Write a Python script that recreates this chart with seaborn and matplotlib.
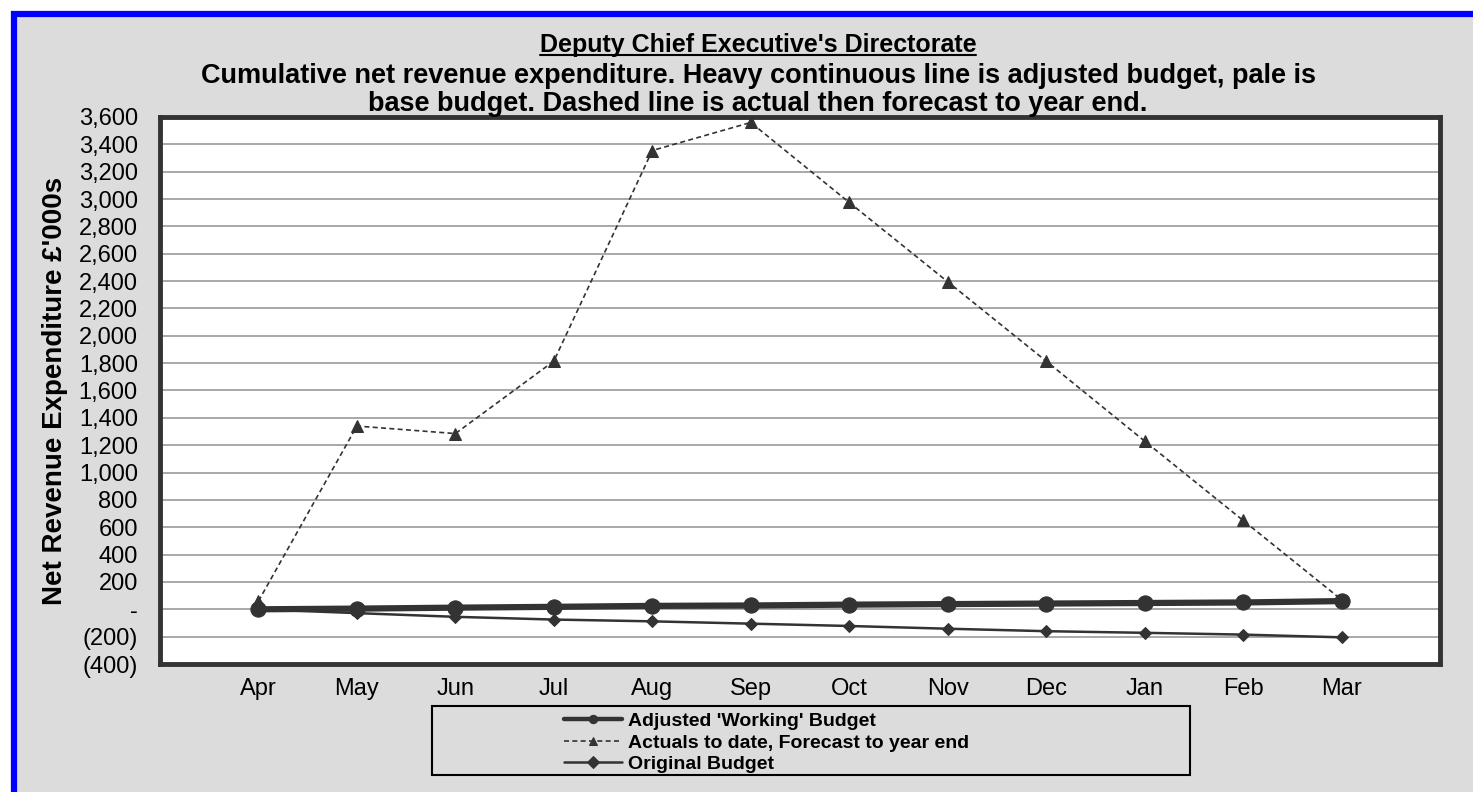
import numpy as np
import matplotlib.pyplot as plt
import matplotlib.patches as mpatches
import matplotlib.lines as mlines
import seaborn as sns

months = ["Apr", "May", "Jun", "Jul", "Aug", "Sep", "Oct", "Nov", "Dec", "Jan", "Feb", "Mar"]
adjusted = [0, 5, 12, 18, 25, 28, 34, 38, 42, 46, 50, 60]
actuals = [60, 1340, 1285, 1815, 3355, 3560, 2975, 2395, 1815, 1230, 650, 70]
original = [0, -28, -55, -75, -88, -105, -122, -142, -160, -172, -185, -205]

ytick_vals = list(range(-400, 3601, 200))

sns.set_style("white")
plt.rcParams['font.family'] = ['Liberation Sans', 'DejaVu Sans']
plt.rcParams['text.color'] = 'black'
plt.rcParams['xtick.color'] = 'black'
plt.rcParams['ytick.color'] = 'black'
plt.rcParams['axes.labelcolor'] = 'black'

dark = "#333333"
bg = "#dcdcdc"

fig = plt.figure(figsize=(14.73, 7.92), dpi=100, facecolor="white")
# blue frame around the grey chart area
fig.patches.append(mpatches.Rectangle((14 / 1473, -0.05), 1.1, 1 - 14 / 792 + 0.05,
                                      transform=fig.transFigure, facecolor=bg,
                                      edgecolor="#0000ff", linewidth=4.5, zorder=-5))

ax = fig.add_axes([160 / 1473, 1 - 664 / 792, 1280 / 1473, 547 / 792])
ax.set_facecolor("white")

sns.lineplot(x=months, y=adjusted, ax=ax, color=dark, lw=4.5, marker="o",
             markersize=11, markeredgecolor=dark, label="Adjusted 'Working' Budget", zorder=4)
sns.lineplot(x=months, y=actuals, ax=ax, color=dark, lw=1.2, ls=(0, (3, 2)), marker="^",
             markersize=8, markeredgecolor=dark, label="Actuals to date, Forecast to year end", zorder=3)
sns.lineplot(x=months, y=original, ax=ax, color=dark, lw=1.8, marker="D",
             markersize=6, markeredgecolor=dark, label="Original Budget", zorder=3)
ax.get_legend().remove()

ax.set_xlim(-1, 12)
ax.set_ylim(-400, 3600)
ax.set_xticks(range(-1, 13))
ax.set_xticklabels([""] + months + [""], fontsize=17)
ax.set_yticks(ytick_vals)


def fmt(v):
    if v == 0:
        return "-"
    if v < 0:
        return "({:,})".format(-v)
    return "{:,}".format(v)


ax.set_yticklabels([fmt(v) for v in ytick_vals], fontsize=17)
ax.tick_params(axis="both", direction="out", length=6, width=1.2, color="black", pad=4)
ax.tick_params(axis="y", pad=10)
ax.yaxis.grid(True, color="#999999", lw=1.2)
ax.xaxis.grid(False)
for s in ax.spines.values():
    s.set_color(dark)
    s.set_linewidth(3.5)
ax.set_xlabel("")
ax.set_ylabel("Net Revenue Expenditure £'000s", fontsize=20, fontweight="bold", labelpad=8)

# titles
t1 = fig.text(0.5146, 1 - 45 / 792, "Deputy Chief Executive's Directorate", ha="center", va="center",
              fontsize=18, fontweight="bold")
fig.text(0.5146, 1 - 76 / 792, "Cumulative net revenue expenditure. Heavy continuous line is adjusted budget, pale is",
         ha="center", va="center", fontsize=19.5, fontweight="bold")
fig.text(0.5146, 1 - 104 / 792, "base budget. Dashed line is actual then forecast to year end.",
         ha="center", va="center", fontsize=19.5, fontweight="bold")
r = fig.canvas.get_renderer()
bb = t1.get_window_extent(renderer=r).transformed(fig.transFigure.inverted())
fig.add_artist(mlines.Line2D([bb.x0, bb.x1], [bb.y0 + 0.002, bb.y0 + 0.002],
                             transform=fig.transFigure, color="black", lw=1.5))

# legend box
fig.patches.append(mpatches.Rectangle((432 / 1473, 1 - 775 / 792), 758 / 1473, 69 / 792,
                                      transform=fig.transFigure, facecolor=bg,
                                      edgecolor="black", linewidth=1.5, zorder=1))
handles, labels = ax.get_legend_handles_labels()
leg = fig.legend(handles, labels, loc="upper left", bbox_to_anchor=(550 / 1473, 1 - 699 / 792),
                 frameon=False, handlelength=3.0, handletextpad=0.3,
                 labelspacing=0.2, borderpad=0.2, prop={"weight": "bold", "size": 14})
leg.set_zorder(5)
for h in leg.legend_handles:
    h.set_markersize(6)
leg.legend_handles[0].set_linewidth(3.2)

fig.savefig("out.png", dpi=100, facecolor=fig.get_facecolor())
